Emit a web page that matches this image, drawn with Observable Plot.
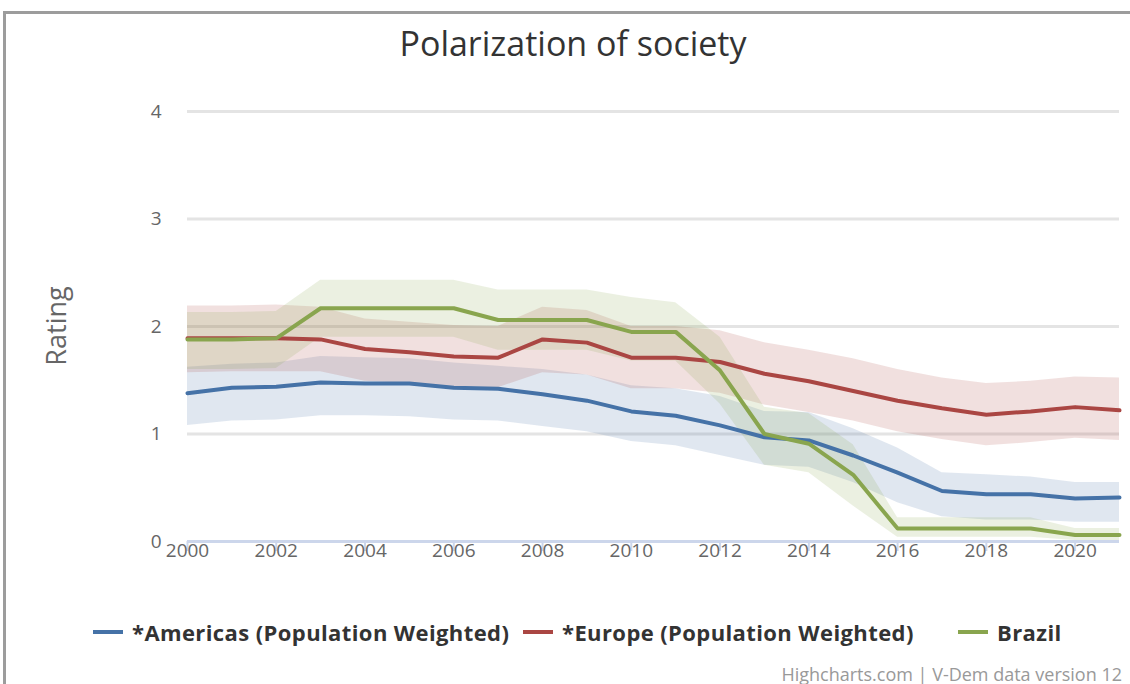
<!DOCTYPE html>
<html>
<head>
<meta charset="utf-8">
<script src="https://cdn.jsdelivr.net/npm/d3@7"></script>
<script src="https://cdn.jsdelivr.net/npm/@observablehq/plot@0.6"></script>
<style>
  html, body { margin: 0; padding: 0; background: #fff; }
  body { width: 1130px; height: 684px; position: relative; overflow: hidden; font-family: "Open Sans", "DejaVu Sans", sans-serif; }
  #frame { position: absolute; left: 3px; top: 11px; width: 1140px; height: 700px; border-top: 3px solid #9c9c9c; border-left: 3px solid #9c9c9c; box-sizing: border-box; }
  #title { position: absolute; left: 0; width: 1146px; top: 20px; text-align: center; font-size: 34px; color: #333; }
  #ylabel { position: absolute; left: 55px; top: 326px; transform: translate(-50%, -50%) rotate(-90deg); font-size: 27px; color: #666; white-space: nowrap; }
  #chart { position: absolute; left: 0; top: 80px; }
  .leg { position: absolute; top: 617px; display: flex; align-items: center; font-size: 22px; letter-spacing: 0.4px; font-weight: bold; color: #333; white-space: nowrap; }
  .leg .sym { width: 30px; height: 4px; margin-right: 9px; }
  #credit { position: absolute; right: 8px; top: 662px; font-size: 18px; color: #999; }
</style>
</head>
<body>
<div id="frame"></div>
<div id="title">Polarization of society</div>
<div id="ylabel">Rating</div>
<div id="chart"></div>
<div id="legend"></div>
<div id="credit">Highcharts.com | V-Dem data version 12</div>
<script>
const years = [2000,2001,2002,2003,2004,2005,2006,2007,2008,2009,2010,2011,2012,2013,2014,2015,2016,2017,2018,2019,2020,2021];

const seriesNames = ["*Americas (Population Weighted)", "*Europe (Population Weighted)", "Brazil"];
const seriesColors = ["#4572A7", "#AA4643", "#89A54E"];

const americas     = [1.38,1.43,1.44,1.48,1.47,1.47,1.43,1.42,1.37,1.31,1.21,1.17,1.08,0.97,0.94,0.80,0.64,0.47,0.44,0.44,0.40,0.41];
const americasLow  = [1.08,1.12,1.13,1.17,1.17,1.16,1.13,1.12,1.07,1.02,0.93,0.89,0.80,0.71,0.69,0.55,0.36,0.23,0.20,0.20,0.18,0.18];
const americasHigh = [1.62,1.65,1.66,1.72,1.71,1.70,1.66,1.63,1.60,1.55,1.45,1.42,1.35,1.21,1.20,1.05,0.87,0.64,0.62,0.60,0.55,0.55];

const europe     = [1.89,1.89,1.89,1.88,1.79,1.76,1.72,1.71,1.88,1.85,1.71,1.71,1.67,1.56,1.49,1.40,1.31,1.24,1.18,1.21,1.25,1.22];
const europeLow  = [1.57,1.58,1.58,1.58,1.49,1.47,1.44,1.43,1.57,1.55,1.42,1.42,1.38,1.27,1.20,1.12,1.02,0.95,0.89,0.92,0.96,0.94];
const europeHigh = [2.19,2.19,2.20,2.18,2.07,2.04,2.01,2.00,2.18,2.15,2.00,2.00,1.96,1.85,1.78,1.70,1.60,1.52,1.47,1.49,1.53,1.52];

const brazil     = [1.88,1.88,1.89,2.17,2.17,2.17,2.17,2.06,2.06,2.06,1.95,1.95,1.59,1.00,0.91,0.62,0.12,0.12,0.12,0.12,0.06,0.06];
const brazilLow  = [1.60,1.60,1.61,1.90,1.90,1.90,1.90,1.78,1.78,1.78,1.68,1.68,1.28,0.71,0.64,0.33,0.04,0.04,0.04,0.04,0.01,0.01];
const brazilHigh = [2.13,2.13,2.14,2.43,2.43,2.43,2.43,2.34,2.34,2.34,2.27,2.22,1.90,1.25,1.19,0.90,0.22,0.22,0.22,0.22,0.12,0.12];

const yTicks = [0,1,2,3,4];
const xTicks = [2000,2002,2004,2006,2008,2010,2012,2014,2016,2018,2020];

const values = [americas, europe, brazil];
const lows = [americasLow, europeLow, brazilLow];
const highs = [americasHigh, europeHigh, brazilHigh];

const rows = [];
seriesNames.forEach((name, s) => {
  years.forEach((yr, i) => {
    rows.push({series: name, year: yr, value: values[s][i], low: lows[s][i], high: highs[s][i]});
  });
});

const chart = Plot.plot({
  width: 1130,
  height: 500,
  marginLeft: 187,
  marginRight: 11,
  marginTop: 31,
  marginBottom: 39,
  style: {fontFamily: '"Open Sans", "DejaVu Sans", sans-serif', background: "transparent"},
  x: {domain: [2000, 2021]},
  y: {domain: [0, 4]},
  color: {domain: seriesNames, range: seriesColors},
  marks: [
    Plot.ruleY(yTicks.filter(d => d > 0), {stroke: "#e4e4e4", strokeWidth: 3}),
    Plot.areaY(rows, {x: "year", y1: "low", y2: "high", z: "series", fill: "series", fillOpacity: 0.17}),
    Plot.lineY(rows, {x: "year", y: "value", z: "series", stroke: "series", strokeWidth: 4}),
    Plot.ruleY([0], {stroke: "#ccd6eb", strokeWidth: 3}),
    Plot.axisY(yTicks, {tickSize: 0, tickPadding: 26, fontSize: 19, fill: "#666", tickFormat: d => String(d), label: null}),
    Plot.axisX(xTicks, {tickSize: 10, stroke: "#ccd6eb", strokeWidth: 2, tickFormat: () => "", label: null}),
    Plot.axisX(xTicks, {tickSize: 0, tickPadding: 2, fontSize: 19, fill: "#666", tickFormat: d => String(d), label: null})
  ]
});
document.getElementById("chart").appendChild(chart);

const legend = document.getElementById("legend");
const legLefts = [93, 523, 958];
seriesNames.forEach((name, i) => {
  const item = document.createElement("div");
  item.className = "leg";
  item.style.left = legLefts[i] + "px";
  const sym = document.createElement("span");
  sym.className = "sym";
  sym.style.background = seriesColors[i];
  const txt = document.createElement("span");
  txt.textContent = name;
  item.appendChild(sym);
  item.appendChild(txt);
  legend.appendChild(item);
});
</script>
</body>
</html>
